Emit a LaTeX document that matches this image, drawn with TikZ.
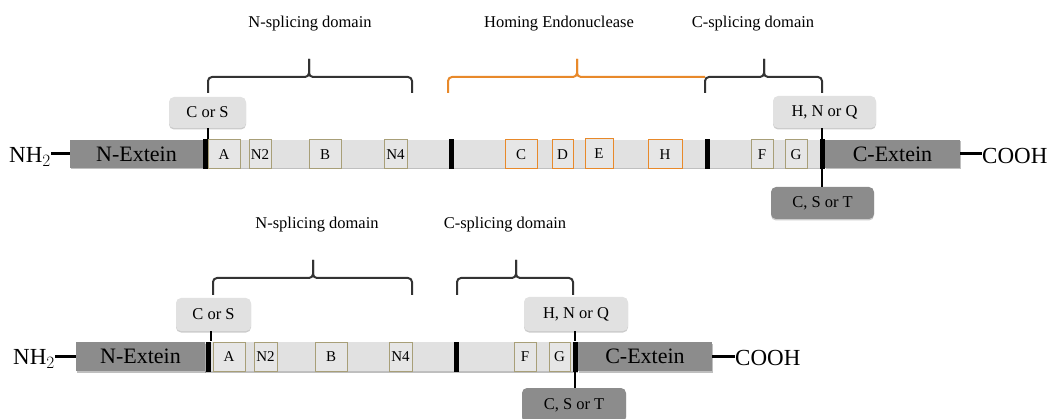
\documentclass[tikz,border=0pt]{standalone}
\usepackage{fontspec}
\setmainfont{Liberation Serif}
\usetikzlibrary{shadows}
\definecolor{exgray}{HTML}{8C8C8C}
\definecolor{barlight}{HTML}{E1E1E1}
\definecolor{boxfill}{HTML}{E6E6E6}
\definecolor{olive}{HTML}{A89F78}
\definecolor{heorange}{HTML}{E8892A}
\definecolor{brk}{HTML}{333333}
\tikzset{
  extein/.style={fill=exgray, draw=none, inner sep=0pt, font=\fontsize{22}{22}\selectfont,
     drop shadow={shadow xshift=1pt, shadow yshift=-1.5pt, fill=black, opacity=0.25}},
  intein/.style={fill=barlight, draw=none, inner sep=0pt,
     drop shadow={shadow xshift=0pt, shadow yshift=-1.5pt, fill=black, opacity=0.25}},
  junction/.style={fill=black, draw=none, inner sep=0pt, minimum width=5pt},
  motif/.style={fill=boxfill, draw=olive, line width=1pt, inner sep=0pt, font=\fontsize{15}{15}\selectfont},
  hemotif/.style={motif, draw=heorange},
  residue/.style={fill=barlight, draw=none, rounded corners=5pt, inner sep=0pt, font=\fontsize{16.5}{16.5}\selectfont,
     drop shadow={shadow xshift=0pt, shadow yshift=-1.5pt, fill=black, opacity=0.2}},
  residuedark/.style={residue, fill=exgray},
  term/.style={inner sep=0pt, font=\fontsize{23}{23}\selectfont},
  domlabel/.style={inner sep=0pt, font=\fontsize{16.5}{16.5}\selectfont},
  bracket/.style={draw=brk, line width=2pt, rounded corners=4pt},
  link/.style={draw=black, line width=2pt},
  termlink/.style={draw=black, line width=3pt},
}
\begin{document}
\begin{tikzpicture}[x=1pt,y=-1pt]
\useasboundingbox (0,0) rectangle (1051,419);
% ================= Row 1 =================
\node[intein, minimum width=619pt, minimum height=28pt] (int1) at (512.5,154) {};
\node[extein, minimum width=133pt, minimum height=28pt] (nex1) at (136.5,154) {N-Extein};
\node[extein, minimum width=135pt, minimum height=28pt] (cex1) at (892.5,154) {C-Extein};
\node[junction, minimum height=30pt] (j11) at (205.5,154) {};
\node[junction, minimum height=30pt] (j12) at (451.5,154) {};
\node[junction, minimum height=30pt] (j13) at (707,154) {};
\node[junction, minimum height=30pt] (j14) at (822,154) {};
\node[motif, minimum width=32pt, minimum height=29pt] (a1) at (224,154.5) {A};
\node[motif, minimum width=22pt, minimum height=29pt] (n21) at (260,154.5) {N2};
\node[motif, minimum width=32pt, minimum height=29pt] (b1) at (325,154.5) {B};
\node[motif, minimum width=23pt, minimum height=29pt] (n41) at (395.5,154.5) {N4};
\node[hemotif, minimum width=32pt, minimum height=29pt] (c1) at (521,154.5) {C};
\node[hemotif, minimum width=21pt, minimum height=29pt] (d1) at (562.5,154.5) {D};
\node[hemotif, minimum width=28pt, minimum height=30pt] (e1) at (599,154) {E};
\node[hemotif, minimum width=34pt, minimum height=29pt] (h1) at (665,154.5) {H};
\node[motif, minimum width=22pt, minimum height=29pt] (f1) at (762,154.5) {F};
\node[motif, minimum width=22pt, minimum height=29pt] (g1) at (796,154.5) {G};
\node[term, anchor=east] (nh1) at (51,157) {NH$_2$};
\node[term, anchor=west] (co1) at (982,156) {COOH};
\draw[termlink] (nh1.east |- nex1.west) -- (nex1.west);
\draw[termlink] (cex1.east) -- (cex1.east -| co1.west);
\node[residue, minimum width=77pt, minimum height=31pt] (cs1) at (207.5,112.5) {C or S};
\node[residue, minimum width=103pt, minimum height=32pt] (hnq1) at (824.5,112) {H, N or Q};
\node[residuedark, minimum width=103pt, minimum height=32pt] (cst1) at (822.5,203) {C, S or T};
\draw[link] (cs1.south -| j11.east) -- (j11.north east);
\draw[link] (hnq1.south -| j14) -- (j14.north);
\draw[link] (j14.south) -- (cst1.north -| j14);
% brackets row 1
\node[domlabel] (lab11) at (310,24) {N-splicing domain};
\node[domlabel] (lab12) at (559,24) {Homing Endonuclease};
\node[domlabel] (lab13) at (753,24) {C-splicing domain};
\draw[bracket] (208,93) -- (208,77) -- (309,77) -- (309,59);
\draw[bracket] (412,93) -- (412,77) -- (309,77) -- (309,59);
\draw[bracket, draw=heorange] (448,93) -- (448,77) -- (577,77) -- (577,59);
\draw[bracket, draw=heorange] (705,77) -- (577,77) -- (577,59);
\draw[bracket] (705,93) -- (705,77) -- (764,77) -- (764,59);
\draw[bracket] (822,93) -- (822,77) -- (764,77) -- (764,59);
% ================= Row 2 =================
\node[intein, minimum width=373pt, minimum height=29pt] (int2) at (391.5,356.5) {};
\node[extein, minimum width=129pt, minimum height=29pt] (nex2) at (140.5,356.5) {N-Extein};
\node[extein, minimum width=134pt, minimum height=29pt] (cex2) at (645,356.5) {C-Extein};
\node[junction, minimum height=30pt] (j21) at (208,356.5) {};
\node[junction, minimum height=30pt] (j22) at (456.5,356.5) {};
\node[junction, minimum height=30pt] (j23) at (575,356.5) {};
\node[motif, minimum width=32pt, minimum height=29pt] (a2) at (229,356.5) {A};
\node[motif, minimum width=23pt, minimum height=29pt] (n22) at (265.5,356.5) {N2};
\node[motif, minimum width=32pt, minimum height=29pt] (b2) at (331,356.5) {B};
\node[motif, minimum width=23pt, minimum height=29pt] (n42) at (400.5,356.5) {N4};
\node[motif, minimum width=22pt, minimum height=29pt] (f2) at (525,356.5) {F};
\node[motif, minimum width=21pt, minimum height=29pt] (g2) at (559.5,356.5) {G};
\node[term, anchor=east] (nh2) at (55,359) {NH$_2$};
\node[term, anchor=west] (co2) at (735,358) {COOH};
\draw[termlink] (nh2.east |- nex2.west) -- (nex2.west);
\draw[termlink] (cex2.east) -- (cex2.east -| co2.west);
\node[residue, minimum width=75pt, minimum height=33pt] (cs2) at (213.5,314.5) {C or S};
\node[residue, minimum width=104pt, minimum height=34pt] (hnq2) at (576,314) {H, N or Q};
\node[residuedark, minimum width=104pt, minimum height=34pt] (cst2) at (574,405) {C, S or T};
\draw[link] (cs2.south -| j21.east) -- (j21.north east);
\draw[link] (hnq2.south -| j23) -- (j23.north);
\draw[link] (j23.south) -- (cst2.north -| j23);
% brackets row 2
\node[domlabel] (lab21) at (317,225) {N-splicing domain};
\node[domlabel] (lab22) at (505,225) {C-splicing domain};
\draw[bracket] (213,295) -- (213,278) -- (313,278) -- (313,260);
\draw[bracket] (412,295) -- (412,278) -- (313,278) -- (313,260);
\draw[bracket] (457,295) -- (457,278) -- (516,278) -- (516,260);
\draw[bracket] (573,295) -- (573,278) -- (516,278) -- (516,260);
\end{tikzpicture}
\end{document}
